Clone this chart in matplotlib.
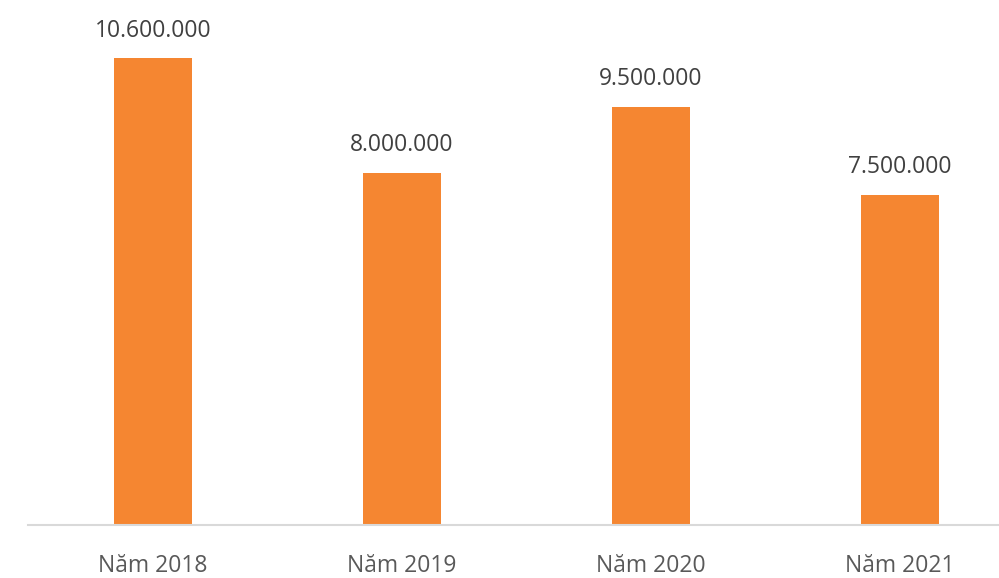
import matplotlib.pyplot as plt

years = ["Năm 2018", "Năm 2019", "Năm 2020", "Năm 2021"]
values = [10600000, 8000000, 9500000, 7500000]
labels = ["10.600.000", "8.000.000", "9.500.000", "7.500.000"]

plt.rcParams['font.family'] = ['Open Sans', 'DejaVu Sans']

fig = plt.figure(figsize=(9.99, 5.78), dpi=100)
ax = fig.add_axes([28 / 999, 53 / 578, 1 - 28 / 999, 1 - 53 / 578])

x = list(range(len(years)))
bars = ax.bar(x, values, width=0.313, color="#F58631")

for b, lab in zip(bars, labels):
    ax.annotate(lab, (b.get_x() + b.get_width() / 2, b.get_height()),
                xytext=(0, 11), textcoords="offset points",
                ha="center", va="bottom", fontsize=16.5, color="#404040")

ax.set_xlim(-0.502, 3.398)
ax.set_ylim(0, 11.92e6)
ax.set_xticks(x)
ax.set_xticklabels(years, fontsize=16.5, color="#595959")
ax.tick_params(axis="x", length=0, pad=21)
ax.set_yticks([])
for s in ["top", "right", "left"]:
    ax.spines[s].set_visible(False)
ax.spines["bottom"].set_color("#D9D9D9")
ax.spines["bottom"].set_linewidth(1.5)

fig.savefig("out.png", dpi=100)
